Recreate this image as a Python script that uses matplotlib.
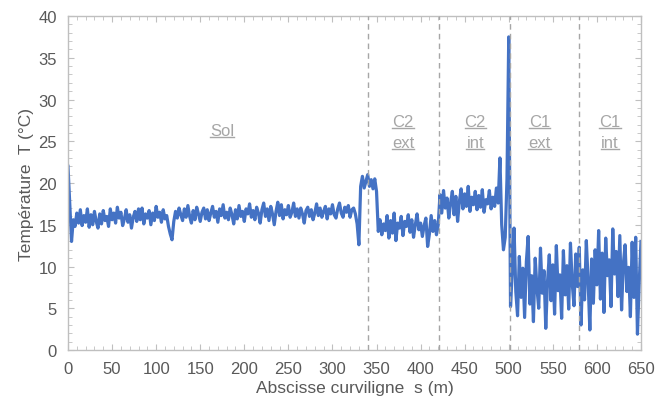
import numpy as np
import matplotlib.pyplot as plt
from matplotlib.ticker import MultipleLocator
from matplotlib.lines import Line2D

plt.rcParams['font.family'] = ['Liberation Sans', 'DejaVu Sans']

# abscisse curviligne (m), pas de 2 m
s = np.arange(0, 651, 2)

# temperature (°C)
temperature = [
    22.0, 17.5, 13.0, 15.6, 14.8, 16.4, 15.2, 16.8, 14.9, 16.1,
    15.3, 16.9, 14.7, 16.2, 15.0, 16.6, 15.4, 14.6, 16.3, 15.1,
    16.7, 15.5, 16.0, 14.8, 16.9, 15.6, 16.4, 15.2, 17.1, 15.8,
    16.5, 14.9, 15.7, 16.8, 15.3, 16.2, 14.6, 15.9, 16.6, 15.4,
    16.9, 15.6, 17.0, 15.1, 16.3, 15.8, 16.7, 15.0, 16.4, 15.5,
    17.2, 15.9, 16.5, 15.3, 16.8, 15.7, 16.1, 14.8, 13.9, 13.2,
    15.4, 16.6, 15.8, 17.0, 16.2, 15.5, 16.9, 15.9, 17.3, 16.0,
    15.2, 16.7, 15.6, 17.1, 16.3, 15.4, 16.5, 17.0, 15.7, 16.8,
    15.5, 16.4, 17.2, 15.9, 16.6, 15.3, 16.9, 16.1, 17.4, 15.8,
    16.5, 15.6, 17.0, 16.2, 15.1, 16.8, 15.7, 17.3, 16.0, 16.6,
    15.4, 16.9, 16.3, 17.5, 15.9, 16.7, 15.6, 17.1, 16.4, 15.2,
    16.8, 17.6, 16.0, 16.9, 15.5, 17.2, 16.3, 15.0, 16.6, 17.7,
    16.1, 17.4, 15.7, 16.8, 16.2, 17.3, 15.9, 16.5, 17.6, 16.0,
    16.9, 15.8, 17.0, 16.3, 15.2, 16.7, 17.1, 16.0, 16.8, 15.6,
    16.4, 17.5, 16.1, 17.0, 15.9, 16.6, 17.2, 15.7, 16.9, 16.3,
    17.4, 16.2, 15.8, 16.9, 17.6, 16.4, 15.9, 17.1, 16.5, 17.3,
    15.9, 16.8, 17.0, 16.3, 15.1, 12.6, 19.6, 20.8, 19.4, 20.2,
    21.0, 19.6, 20.4, 19.3, 20.5, 19.0, 14.2, 15.6, 13.8, 15.1,
    14.3, 16.1, 13.4, 15.5, 14.0, 16.4, 13.1, 15.2, 14.6, 16.0,
    13.7, 15.4, 14.8, 16.2, 14.1, 15.6, 13.5, 15.0, 16.3, 14.4,
    15.2, 13.6, 14.9, 15.8, 12.4, 13.9, 16.1, 14.2, 15.5, 13.8,
    15.0, 18.6, 16.4, 19.1, 17.0, 18.2, 15.8, 17.6, 19.0, 16.2,
    18.4, 15.4, 17.8, 19.3, 16.9, 18.7, 17.2, 19.6, 16.6, 18.3,
    17.4, 19.0, 16.8, 18.5, 17.1, 19.2, 16.5, 18.0, 17.5, 19.1,
    16.9, 18.3, 17.2, 19.4, 17.6, 23.0, 15.0, 12.0, 13.5, 20.5,
    37.5, 5.2, 9.4, 14.6, 7.0, 4.1, 11.2, 6.3, 9.8, 3.9,
    10.6, 13.6, 5.5, 8.9, 3.4, 11.0, 7.4, 5.0, 12.2, 6.8,
    9.5, 2.6, 8.2, 11.4, 5.9, 10.2, 4.3, 12.5, 7.1, 9.0,
    3.8, 11.9, 6.6, 10.1, 4.9, 12.8, 8.0, 5.3, 11.5, 7.6,
    12.3, 3.0, 9.6, 6.0, 13.1, 8.4, 2.4, 10.9, 5.6, 12.0,
    7.8, 14.3, 6.1, 11.6, 4.5, 13.4, 8.9, 10.8, 5.2, 14.5,
    9.1, 11.8, 6.4, 13.7, 4.8, 10.3, 12.6, 7.0, 9.9, 4.0,
    12.9, 6.3, 13.5, 1.9, 8.0, 13.0,
]

# limites des zones et etiquettes
limites = [340, 421, 501, 580]
zones = [("Sol", None, 175, 26.3),
         ("C2", "ext", 380, 27.4),
         ("C2", "int", 462, 27.4),
         ("C1", "ext", 535, 27.4),
         ("C1", "int", 615, 27.4)]

gris = "#595959"
gris_clair = "#A6A6A6"

fig = plt.figure(figsize=(6.57, 4.10), dpi=100)
ax = fig.add_axes([0.1035, 0.1439, 0.8721, 0.8146])

ax.plot(s, temperature, color="#4472C4", linewidth=2.3, solid_joinstyle="round")

for x in limites:
    ax.axvline(x, color="#A6A6A6", linestyle=(0, (4, 3)), linewidth=1.0, zorder=3)

ax.set_xlim(0, 650)
ax.set_ylim(0, 40)
ax.xaxis.set_major_locator(MultipleLocator(50))
ax.xaxis.set_minor_locator(MultipleLocator(10))
ax.yaxis.set_major_locator(MultipleLocator(5))
ax.yaxis.set_minor_locator(MultipleLocator(1))

for sp in ax.spines.values():
    sp.set_color("#BFBFBF")
    sp.set_linewidth(1.0)

ax.tick_params(which="both", direction="in", color="#BFBFBF",
               top=True, right=True, labelsize=12, labelcolor=gris)
ax.tick_params(which="major", length=4, pad=8)
ax.tick_params(which="minor", length=3)

ax.set_xlabel("Abscisse curviligne  s (m)", fontsize=12.5, color=gris, labelpad=3)
ax.set_ylabel("Température  T (°C)", fontsize=12.5, color=gris, labelpad=3)

textes = []
for l1, l2, xz, yz in zones:
    if l2 is None:
        textes.append(ax.text(xz, yz, l1, ha="center", va="center",
                              fontsize=12, color=gris_clair))
    else:
        textes.append(ax.text(xz, yz, l1, ha="center", va="center",
                              fontsize=12, color=gris_clair))
        textes.append(ax.text(xz, yz - 2.5, l2, ha="center", va="center",
                              fontsize=12, color=gris_clair))

# soulignement des etiquettes
fig.canvas.draw()
rend = fig.canvas.get_renderer()
inv = fig.transFigure.inverted()
for t in textes:
    bb = t.get_window_extent(rend)
    (x0, y0), (x1, _) = inv.transform([(bb.x0, bb.y0 + 1), (bb.x1, bb.y0)])
    fig.add_artist(Line2D([x0, x1], [y0, y0], transform=fig.transFigure,
                          color=gris_clair, linewidth=1.0))

fig.savefig("out.png", dpi=100)
